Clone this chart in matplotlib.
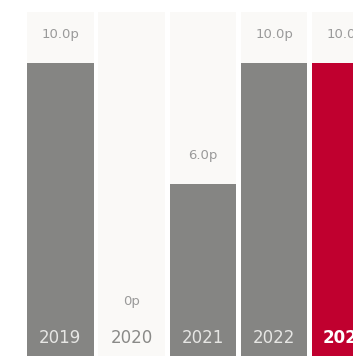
import matplotlib.pyplot as plt

years = ['2019', '2020', '2021', '2022', '2023']
dividend = [10.0, 0.0, 6.0, 10.0, 10.0]
labels = ['10.0p', '0p', '6.0p', '10.0p', '10.0p']

bar_grey = '#858583'
bar_red = '#c0002f'
bg_col = '#faf9f7'


def plot_data():
    fig = plt.figure(figsize=(3.53, 3.56), dpi=100)
    ax = fig.add_axes([0, 0, 1, 1])
    x = list(range(len(years)))
    w = 0.933

    # light background columns behind every bar
    ax.bar(x, [11.69] * len(x), width=w, color=bg_col, zorder=1)
    colors = [bar_grey] * (len(x) - 1) + [bar_red]
    ax.bar(x, dividend, width=w, color=colors, zorder=2)

    for i, (v, lab) in enumerate(zip(dividend, labels)):
        ax.text(i, max(v, 1.15) + 0.93, lab, ha='center', va='center',
                fontsize=9.5, color='#9a9a9a', zorder=3)

    year_colors = ['#e6e6e4', '#8a8a88', '#e6e6e4', '#e6e6e4', 'white']
    for i, y in enumerate(years):
        ax.text(i, 0.9, y, ha='center', va='center', fontsize=12,
                color=year_colors[i], zorder=3,
                fontweight='bold' if i == len(years) - 1 else 'normal')

    ax.set_xlim(-0.845, 4.106)
    ax.set_ylim(0.29, 12.09)
    ax.axis('off')
    plt.savefig('out.png', dpi=100, facecolor='white')


if __name__ == '__main__':
    plot_data()
